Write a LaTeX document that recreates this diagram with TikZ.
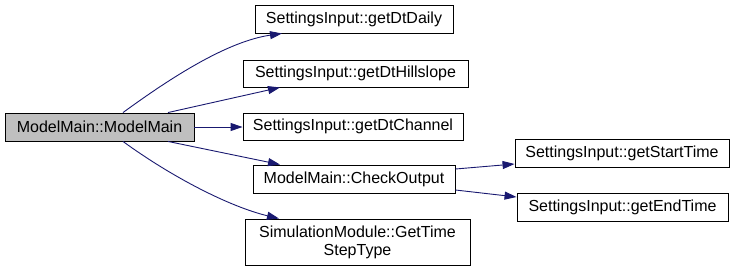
\documentclass[tikz,border=0pt]{standalone}
\usepackage{fontspec}
\setmainfont{Liberation Sans}
\usetikzlibrary{arrows.meta}
\definecolor{edgeblue}{HTML}{191970}
\definecolor{curfill}{HTML}{BFBFBF}
\begin{document}
\begin{tikzpicture}[x=1pt,y=-1pt,
  fn/.style={draw=black,line width=0.9pt,fill=white,inner sep=0pt,
    font=\fontsize{16}{18}\selectfont,align=center},
  cur/.style={fn,fill=curfill},
  call/.style={draw=edgeblue,line width=0.9pt,
    -{Triangle[length=12pt,width=8pt,fill=edgeblue]}}]
\useasboundingbox (0,0) rectangle (736,271);

% functions
\node[cur,minimum width=189pt,minimum height=28pt] (mm) at (99.5,127) {ModelMain::ModelMain};
\node[fn,minimum width=198pt,minimum height=28pt] (daily) at (354,19) {SettingsInput::getDtDaily};
\node[fn,minimum width=225pt,minimum height=27pt] (hill) at (355.5,73.5) {SettingsInput::getDtHillslope};
\node[fn,minimum width=220pt,minimum height=27pt] (chan) at (353,126.5) {SettingsInput::getDtChannel};
\node[fn,minimum width=202pt,minimum height=28pt] (chk) at (354,179) {ModelMain::CheckOutput};
\node[fn,minimum width=225pt,minimum height=46pt] (gtst) at (357.5,242) {SimulationModule::GetTime\\StepType};
\node[fn,minimum width=214pt,minimum height=28pt] (start) at (622,153) {SettingsInput::getStartTime};
\node[fn,minimum width=211pt,minimum height=28pt] (end) at (622.5,207) {SettingsInput::getEndTime};

% calls
\draw[call] ([xshift=23.5pt]mm.north) .. controls +(48,-35) and +(-55,8) .. ([xshift=-72pt]daily.south);
\draw[call] ([xshift=68.5pt]mm.north) -- ([xshift=-75.5pt]hill.south);
\draw[call] (mm.east) -- (mm.east -| chan.west);
\draw[call] ([xshift=68.5pt]mm.south) -- ([xshift=-74pt]chk.north);
\draw[call] ([xshift=23.5pt]mm.south) .. controls +(48,35) and +(-50,-12) .. ([xshift=-78.5pt]gtst.north);
\draw[call] ([yshift=10pt]chk.east) -- ([yshift=-11pt]start.west);
\draw[call] ([yshift=-11pt]chk.east) -- ([yshift=10pt]end.west);
\end{tikzpicture}
\end{document}
